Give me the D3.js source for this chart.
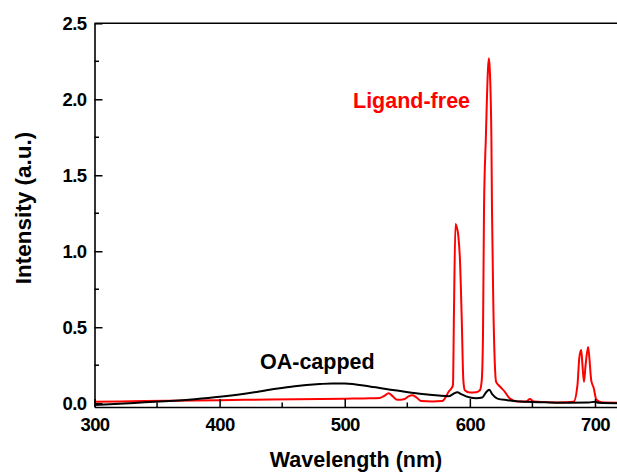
<!DOCTYPE html>
<html>
<head>
<meta charset="utf-8">
<script src="https://cdn.jsdelivr.net/npm/d3@7/dist/d3.min.js"></script>
<style>
  html, body { margin: 0; padding: 0; background: #fff; }
  svg { display: block; font-family: "Liberation Sans", Arial, sans-serif; font-weight: bold; }
</style>
</head>
<body>
<svg id="chart" width="617" height="472"></svg>
<script>
// ---- Data ----
const oaWavelength = [300, 320, 340, 360, 370, 380, 400, 420, 440, 460, 480, 490, 500, 520, 540, 560, 575, 583, 587, 590, 593, 597, 605, 610, 613, 615.5, 618, 622, 630, 640, 660, 680, 695, 700, 703, 720];
const oaIntensity  = [-0.012, -0.004, 0.006, 0.015, 0.019, 0.026, 0.042, 0.062, 0.088, 0.112, 0.126, 0.130, 0.129, 0.110, 0.085, 0.062, 0.050, 0.046, 0.062, 0.072, 0.060, 0.045, 0.033, 0.038, 0.072, 0.088, 0.058, 0.030, 0.020, 0.011, 0.006, 0.003, 0.004, 0.010, 0.003, 0.000];

const lfWavelength = [300, 340, 380, 420, 460, 500, 520, 528, 532, 535, 538, 542, 548, 551, 554, 557, 561, 570, 578, 581, 583, 585, 586.5, 587.3, 588.5, 589.5, 590.8, 592, 593.5, 594.8, 596, 600, 605, 608, 609.5, 610.5, 611.3, 612.8, 614.5, 615.2, 615.9, 617.2, 617.7, 618.7, 620, 621, 624, 628, 632, 638, 645, 648, 651, 670, 683, 686, 687.5, 689, 690, 691.2, 692.5, 694.5, 695.5, 697, 699, 701, 705, 720];
const lfIntensity  = [0.010, 0.014, 0.018, 0.022, 0.026, 0.030, 0.032, 0.035, 0.050, 0.066, 0.048, 0.022, 0.028, 0.045, 0.052, 0.040, 0.015, 0.012, 0.015, 0.045, 0.075, 0.095, 0.120, 0.600, 1.180, 1.160, 1.100, 0.960, 0.560, 0.150, 0.085, 0.070, 0.072, 0.085, 0.150, 0.450, 1.270, 1.750, 2.200, 2.270, 2.200, 1.750, 1.270, 0.680, 0.250, 0.140, 0.110, 0.075, 0.030, 0.012, 0.012, 0.028, 0.012, 0.005, 0.010, 0.120, 0.300, 0.350, 0.250, 0.140, 0.250, 0.370, 0.300, 0.150, 0.100, 0.025, 0.006, 0.003];

const xTicks = [300, 400, 500, 600, 700];
const xMinorTicks = [350, 450, 550, 650];
const yTicks = [0.0, 0.5, 1.0, 1.5, 2.0, 2.5];
const yMinorTicks = [0.25, 0.75, 1.25, 1.75, 2.25];

const seriesLabels = ["OA-capped", "Ligand-free"];
const xTitle = "Wavelength (nm)";
const yTitle = "Intensity (a.u.)";

// ---- Drawing ----
const svg = d3.select("#chart");
const x = d3.scaleLinear().domain([300, 720]).range([94.5, 620]);
const y = d3.scaleLinear().domain([-0.025, 2.5]).range([407, 23.3]);

const axisColor = "#000";

// Lines
const line = d3.line().x(d => x(d[0])).y(d => y(d[1])).curve(d3.curveMonotoneX);
const lfData = lfWavelength.map((w, i) => [w, lfIntensity[i]]);
const oaData = oaWavelength.map((w, i) => [w, oaIntensity[i]]);

const plot = svg.append("g");
plot.append("path").datum(lfData).attr("d", line)
  .attr("fill", "none").attr("stroke", "#ff0000").attr("stroke-width", 2).attr("stroke-linejoin", "round");
plot.append("path").datum(oaData).attr("d", line)
  .attr("fill", "none").attr("stroke", "#000").attr("stroke-width", 2).attr("stroke-linejoin", "round");

// Bottom axis (ticks inward)
const xAxis = d3.axisBottom(x).tickValues(xTicks).tickSizeInner(-8).tickSizeOuter(0).tickPadding(11).tickFormat(d3.format("d"));
const gx = svg.append("g").attr("transform", `translate(0,${y.range()[0]})`).call(xAxis);
gx.select(".domain").attr("stroke-width", 1.6);
gx.selectAll(".tick line").attr("stroke-width", 1.5);
gx.selectAll(".tick text").attr("font-size", 18.5).attr("font-weight", "bold").attr("font-family", "Liberation Sans, Arial, sans-serif").attr("letter-spacing", -0.6).attr("fill", "#000");
gx.selectAll(".minor").data(xMinorTicks).enter().append("line")
  .attr("x1", d => x(d)).attr("x2", d => x(d)).attr("y1", 0).attr("y2", -4.5)
  .attr("stroke", axisColor).attr("stroke-width", 1.5);

// Left axis (ticks inward)
const yAxis = d3.axisLeft(y).tickValues(yTicks).tickSizeInner(-8).tickSizeOuter(0).tickPadding(8).tickFormat(d3.format(".1f"));
const gy = svg.append("g").attr("transform", `translate(${x.range()[0]},0)`).call(yAxis);
gy.select(".domain").attr("stroke-width", 1.6);
gy.selectAll(".tick line").attr("stroke-width", 1.5);
gy.selectAll(".tick text").attr("font-size", 18.5).attr("font-weight", "bold").attr("font-family", "Liberation Sans, Arial, sans-serif").attr("letter-spacing", -0.6).attr("fill", "#000");
gy.selectAll(".minor").data(yMinorTicks).enter().append("line")
  .attr("x1", 0).attr("x2", 4.5).attr("y1", d => y(d)).attr("y2", d => y(d))
  .attr("stroke", axisColor).attr("stroke-width", 1.5);

// Top frame line
svg.append("line")
  .attr("x1", x.range()[0]).attr("x2", x.range()[1])
  .attr("y1", y.range()[1]).attr("y2", y.range()[1])
  .attr("stroke", axisColor).attr("stroke-width", 1.6);

// Axis titles
svg.append("text").attr("x", 356).attr("y", 467).attr("text-anchor", "middle")
  .attr("font-size", 21.5).attr("fill", "#000").text(xTitle);
svg.append("text").attr("transform", "translate(31,208) rotate(-90)").attr("text-anchor", "middle")
  .attr("font-size", 22.5).attr("fill", "#000").text(yTitle);

// Series labels
svg.append("text").attr("x", 260).attr("y", 368.5).attr("font-size", 21.5).attr("fill", "#000").text(seriesLabels[0]);
svg.append("text").attr("x", 353).attr("y", 108).attr("font-size", 21.5).attr("fill", "#ff0000").text(seriesLabels[1]);
</script>
</body>
</html>
